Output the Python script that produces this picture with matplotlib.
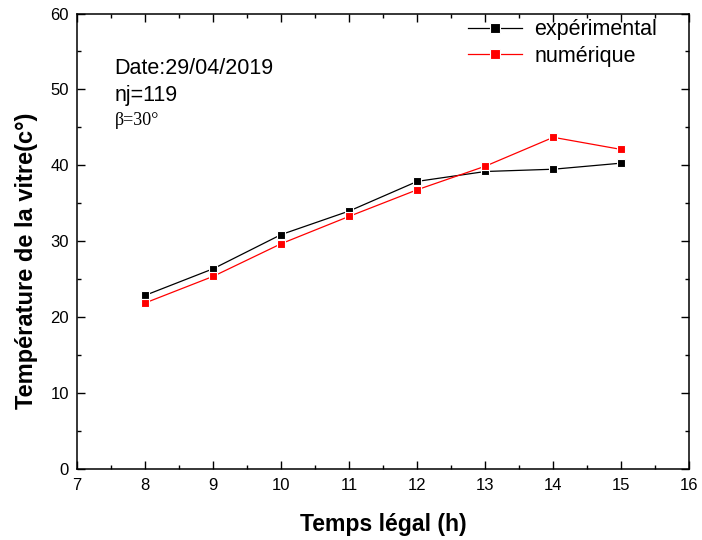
import matplotlib
matplotlib.use("Agg")
import matplotlib.pyplot as plt
from matplotlib.ticker import MultipleLocator

hours = [8, 9, 10, 11, 12, 13, 14, 15]
experimental = [22.9, 26.4, 30.9, 34.0, 37.9, 39.2, 39.5, 40.3]
numerique = [21.9, 25.4, 29.7, 33.3, 36.8, 39.9, 43.7, 42.1]
labels = ["expérimental", "numérique"]

plt.rcParams['font.family'] = ['Liberation Sans', 'DejaVu Sans']

fig = plt.figure(figsize=(7.02, 5.40), dpi=100)
ax = fig.add_axes([0.110, 0.131, 0.872, 0.844])

ax.plot(hours, experimental, color='black', lw=0.9, marker='s', ms=6,
        mfc='black', mec='white', mew=0.8, label=labels[0])
ax.plot(hours, numerique, color='red', lw=0.9, marker='s', ms=6,
        mfc='red', mec='white', mew=0.8, label=labels[1])

ax.set_xlim(7, 16)
ax.set_ylim(0, 60)
ax.xaxis.set_major_locator(MultipleLocator(1))
ax.xaxis.set_minor_locator(MultipleLocator(0.5))
ax.yaxis.set_major_locator(MultipleLocator(10))
ax.yaxis.set_minor_locator(MultipleLocator(5))
ax.tick_params(which='both', direction='in', top=True, right=True,
               labelsize=12, width=1)
ax.tick_params(which='major', length=6, pad=6)
ax.tick_params(which='minor', length=3)
for s in ax.spines.values():
    s.set_linewidth(1.1)

ax.set_xlabel("Temps légal (h)", fontsize=16.6, fontweight='bold', labelpad=15)
ax.set_ylabel("Température de la vitre(c°)", fontsize=17.0, fontweight='bold')
ax.yaxis.set_label_coords(-0.064, 0.457)

ax.text(0.061, 0.880, "Date:29/04/2019", transform=ax.transAxes, fontsize=15.5,
        va='center', ha='left')
ax.text(0.061, 0.820, "nj=119", transform=ax.transAxes, fontsize=15.5,
        va='center', ha='left')
ax.text(0.061, 0.765, "β=30°", transform=ax.transAxes, fontsize=13,
        va='center', ha='left', family=['Liberation Serif', 'DejaVu Serif'])

ax.legend(loc='upper left', bbox_to_anchor=(0.638, 0.987), frameon=False,
          fontsize=15.5, handlelength=2.5, handletextpad=0.6, borderpad=0,
          borderaxespad=0, labelspacing=0.25, markerscale=1.1)

fig.savefig("out.png", dpi=100)
